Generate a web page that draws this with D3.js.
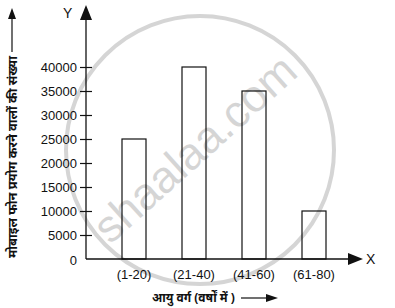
<!DOCTYPE html>
<html><head><meta charset="utf-8">
<script src="https://cdn.jsdelivr.net/npm/d3@7"></script>
<style>body{margin:0;background:#fff}svg{display:block}</style>
</head><body>
<svg id="c" width="395" height="308"></svg>
<script>
const categories = ["(1-20)", "(21-40)", "(41-60)", "(61-80)"];
const values = [25000, 40000, 35000, 10000];
const yTicks = [0, 5000, 10000, 15000, 20000, 25000, 30000, 35000, 40000];
const xTitle = "आयु वर्ग (वर्षों में )";
const yTitle = "मोबाइल फोन प्रयोग करने वालों की संख्या";

const svg = d3.select("#c");
const font = "'Liberation Sans', Arial, sans-serif";
const hindi = "'Noto Sans', 'Noto Sans CJK SC', sans-serif";

const x0 = 86, yBase = 259;
const y = d3.scaleLinear().domain([0, 40000]).range([yBase, 67]);
const x = d3.scaleBand().domain(categories).range([104, 344]).paddingInner(0.6).paddingOuter(0.3);

// bars
svg.selectAll("rect.bar").data(values).join("rect")
  .attr("x", (d, i) => x(categories[i]))
  .attr("y", d => y(d))
  .attr("width", x.bandwidth())
  .attr("height", d => yBase - y(d))
  .attr("fill", "#fff").attr("stroke", "#111").attr("stroke-width", 1.2);

// y axis
const yAxis = d3.axisLeft(y).tickValues(yTicks.slice(1)).tickSize(0).tickFormat(d3.format("d"));
const ga = svg.append("g").attr("transform", `translate(${x0},0)`).call(yAxis);
ga.select(".domain").remove();
ga.selectAll(".tick line").attr("x1", -6).attr("x2", 6).attr("stroke", "#111").attr("stroke-width", 1.2);
ga.selectAll(".tick text").attr("x", -9).attr("dy", "0.35em").attr("font-family", font).attr("font-size", 13).attr("fill", "#111");
svg.append("text").attr("x", 77).attr("y", yBase + 6).attr("text-anchor", "end")
  .attr("font-family", font).attr("font-size", 13).attr("fill", "#111").text("0");

// axes lines
svg.append("line").attr("x1", x0).attr("x2", x0).attr("y1", yBase).attr("y2", 18).attr("stroke", "#111").attr("stroke-width", 1.3);
svg.append("path").attr("d", `M${x0 - 6},20 L${x0},5 L${x0 + 6},20 Z`).attr("fill", "#111");
svg.append("line").attr("x1", x0).attr("x2", 350).attr("y1", yBase).attr("y2", yBase).attr("stroke", "#111").attr("stroke-width", 1.3);
svg.append("path").attr("d", `M348,${yBase - 6} L363,${yBase} L348,${yBase + 6} Z`).attr("fill", "#111");
svg.append("text").attr("x", 366).attr("y", yBase + 5).attr("font-family", font).attr("font-size", 14).attr("fill", "#111").text("X");
svg.append("text").attr("x", 63).attr("y", 18).attr("font-family", font).attr("font-size", 14).attr("fill", "#111").text("Y");

// x tick labels
svg.selectAll("text.xl").data(categories).join("text")
  .attr("x", d => x(d) + x.bandwidth() / 2).attr("y", 279)
  .attr("text-anchor", "middle").attr("font-family", font).attr("font-size", 13).attr("fill", "#111").text(d => d);

// x title + arrow
svg.append("text").attr("x", 152).attr("y", 302).attr("font-family", hindi).attr("font-size", 12)
  .attr("font-weight", "bold").attr("fill", "#111").text(xTitle);
svg.append("line").attr("x1", 241).attr("x2", 272).attr("y1", 298).attr("y2", 298).attr("stroke", "#111").attr("stroke-width", 1.2);
svg.append("path").attr("d", "M266,294 L278,298 L266,302 Z").attr("fill", "#111");

// y title + arrow
svg.append("text").attr("transform", "translate(17,157) rotate(-90)").attr("text-anchor", "middle")
  .attr("textLength", 202).attr("lengthAdjust", "spacingAndGlyphs")
  .attr("font-family", hindi).attr("font-size", 13).attr("font-weight", "bold").attr("fill", "#111").text(yTitle);
svg.append("line").attr("x1", 12).attr("x2", 12).attr("y1", 52).attr("y2", 14).attr("stroke", "#111").attr("stroke-width", 1.2);
svg.append("path").attr("d", "M8,19 L12,8 L16,19 Z").attr("fill", "#111");

// watermark (on top, translucent)
const wm = svg.append("g").attr("opacity", 0.16);
wm.append("circle").attr("cx", 200).attr("cy", 150).attr("r", 134)
  .attr("fill", "none").attr("stroke", "#000").attr("stroke-width", 4);
wm.append("text").attr("transform", "translate(205,160) rotate(-42)")
  .attr("text-anchor", "middle").attr("font-family", font).attr("font-size", 45)
  .attr("fill", "#000").text("shaalaa.com");
</script>
</body></html>
